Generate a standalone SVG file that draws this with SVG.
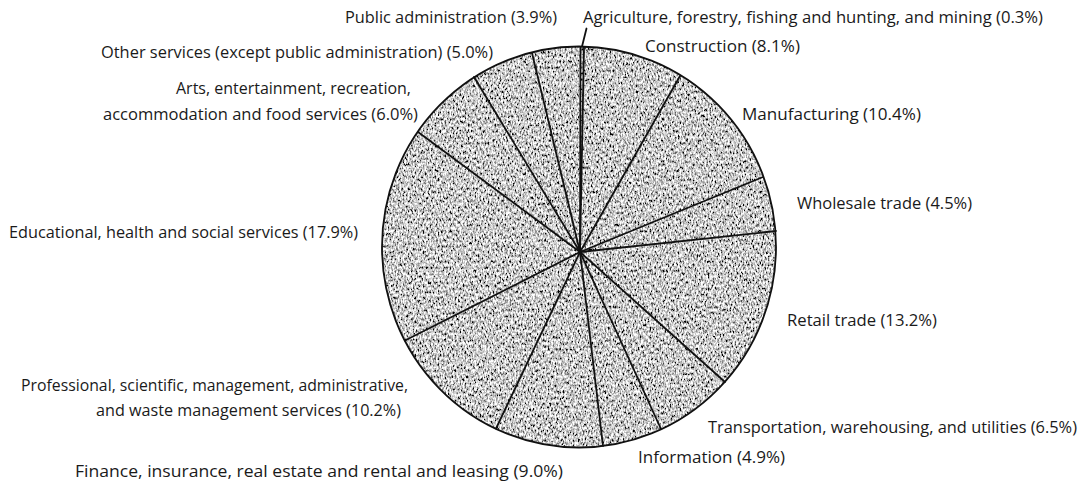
<svg xmlns="http://www.w3.org/2000/svg" width="1082" height="483" viewBox="0 0 1082 483">
<style>
.lbl{font-family:"Open Sans","Noto Sans","Liberation Sans",sans-serif;font-size:15.5px;fill:#1a1a1a}
.spoke{stroke:#111;stroke-width:1.8;fill:none;stroke-linecap:round}
</style>
<defs>
<filter id="grain" x="0" y="0" width="1" height="1">
<feTurbulence type="fractalNoise" baseFrequency="0.6 0.33" numOctaves="3" seed="7" result="n"/>
<feColorMatrix in="n" type="matrix" values="2.5 0 0 0 -0.66  2.5 0 0 0 -0.66  2.5 0 0 0 -0.66  0 0 0 0 1" result="g"/>
<feComposite in="g" in2="SourceGraphic" operator="in"/>
</filter>
</defs>
<rect width="1082" height="483" fill="#ffffff"/>
<g id="pie">
<ellipse cx="579" cy="247" rx="197" ry="200.5" fill="#9a9a9a"/>
<ellipse cx="579" cy="247" rx="197" ry="200.5" fill="#9a9a9a" filter="url(#grain)"/>
</g>
<g id="connectors">
<line class="spoke" x1="580" y1="252" x2="580.5" y2="47"/>
<line class="spoke" x1="580" y1="252" x2="584" y2="47"/>
<line class="spoke" x1="580" y1="252" x2="680" y2="76"/>
<line class="spoke" x1="580" y1="252" x2="763" y2="177"/>
<line class="spoke" x1="580" y1="252" x2="776" y2="231"/>
<line class="spoke" x1="580" y1="252" x2="725" y2="382"/>
<line class="spoke" x1="580" y1="252" x2="661" y2="429"/>
<line class="spoke" x1="580" y1="252" x2="603" y2="446"/>
<line class="spoke" x1="580" y1="252" x2="496" y2="428.5"/>
<line class="spoke" x1="580" y1="252" x2="405" y2="340.5"/>
<line class="spoke" x1="580" y1="252" x2="418" y2="132"/>
<line class="spoke" x1="580" y1="252" x2="474" y2="77"/>
<line class="spoke" x1="580" y1="252" x2="532" y2="53"/>
<line class="spoke" x1="582" y1="46.5" x2="586.5" y2="28.5" stroke-width="1.1"/>
</g>
<ellipse cx="579" cy="247" rx="197" ry="200.5" fill="none" stroke="#111" stroke-width="1.8"/>
<g id="labels">
<g id="lbl-public"><text class="lbl" x="345" y="23" textLength="212" lengthAdjust="spacingAndGlyphs">Public administration (3.9%)</text></g>
<g id="lbl-agriculture"><text class="lbl" x="583" y="23" textLength="460" lengthAdjust="spacingAndGlyphs">Agriculture, forestry, fishing and hunting, and mining (0.3%)</text></g>
<g id="lbl-construction"><text class="lbl" x="645" y="52" textLength="155" lengthAdjust="spacingAndGlyphs">Construction (8.1%)</text></g>
<g id="lbl-other"><text class="lbl" x="101" y="58" textLength="392" lengthAdjust="spacingAndGlyphs">Other services (except public administration) (5.0%)</text></g>
<g id="lbl-arts"><text class="lbl" x="176" y="94" textLength="235" lengthAdjust="spacingAndGlyphs">Arts, entertainment, recreation,</text>
<text class="lbl" x="103" y="120" textLength="315" lengthAdjust="spacingAndGlyphs">accommodation and food services (6.0%)</text></g>
<g id="lbl-manufacturing"><text class="lbl" x="742" y="120" textLength="179" lengthAdjust="spacingAndGlyphs">Manufacturing (10.4%)</text></g>
<g id="lbl-wholesale"><text class="lbl" x="797" y="209" textLength="175" lengthAdjust="spacingAndGlyphs">Wholesale trade (4.5%)</text></g>
<g id="lbl-educational"><text class="lbl" x="9" y="238" textLength="349" lengthAdjust="spacingAndGlyphs">Educational, health and social services (17.9%)</text></g>
<g id="lbl-retail"><text class="lbl" x="787" y="326" textLength="150" lengthAdjust="spacingAndGlyphs">Retail trade (13.2%)</text></g>
<g id="lbl-professional"><text class="lbl" x="21" y="391" textLength="387" lengthAdjust="spacingAndGlyphs">Professional, scientific, management, administrative,</text>
<text class="lbl" x="96" y="416" textLength="305" lengthAdjust="spacingAndGlyphs">and waste management services (10.2%)</text></g>
<g id="lbl-transportation"><text class="lbl" x="708" y="433" textLength="369" lengthAdjust="spacingAndGlyphs">Transportation, warehousing, and utilities (6.5%)</text></g>
<g id="lbl-information"><text class="lbl" x="638" y="463" textLength="147" lengthAdjust="spacingAndGlyphs">Information (4.9%)</text></g>
<g id="lbl-finance"><text class="lbl" x="75" y="477" textLength="488" lengthAdjust="spacingAndGlyphs">Finance, insurance, real estate and rental and leasing (9.0%)</text></g>
</g>
</svg>
